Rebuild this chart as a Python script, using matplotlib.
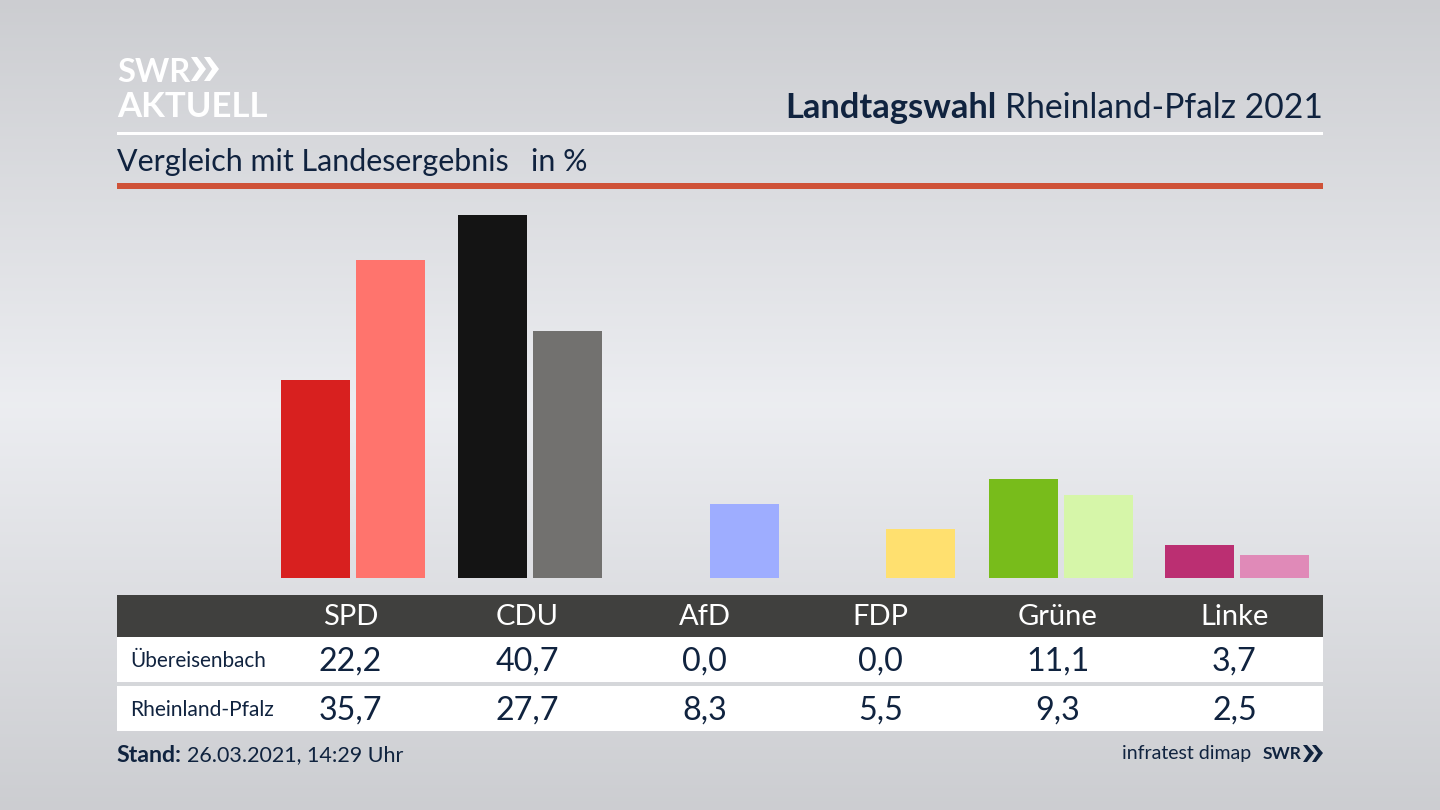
import numpy as np
import matplotlib
matplotlib.use("Agg")
import matplotlib.pyplot as plt
from matplotlib.patches import Rectangle, Polygon

parties = ["SPD", "CDU", "AfD", "FDP", "Grüne", "Linke"]
local_values = [22.2, 40.7, 0.0, 0.0, 11.1, 3.7]
state_values = [35.7, 27.7, 8.3, 5.5, 9.3, 2.5]
local_colors = ["#d8201f", "#141414", "#7f93ff", "#ffd84a", "#78bc1b", "#bb2f72"]
state_colors = ["#ff746d", "#72716f", "#9eadff", "#ffe06f", "#d6f6a9", "#e08ab8"]
row_names = ["Übereisenbach", "Rheinland-Pfalz"]

plt.rcParams["font.family"] = ["Lato", "DejaVu Sans"]
navy = "#10233f"

fig = plt.figure(figsize=(14.4, 8.1), dpi=100)

# background and all the furniture in pixel coords
bg = fig.add_axes([0, 0, 1, 1], zorder=0)
bg.set_xlim(0, 1440)
bg.set_ylim(810, 0)
bg.axis("off")
grad = np.interp(np.linspace(0, 1, 256), [0, 0.5, 1], [0.80, 0.925, 0.80])
bg.imshow(np.column_stack([grad, grad + 0.005, grad + 0.02]).reshape(256, 1, 3).clip(0, 1),
          extent=[0, 1440, 810, 0], aspect="auto")

bg.add_patch(Rectangle((117, 132), 1206, 3, color="white", lw=0))
bg.add_patch(Rectangle((117, 183), 1206, 6, color="#cf5238", lw=0))
bg.add_patch(Rectangle((117, 595), 1206, 42, color="#40403e", lw=0))
bg.add_patch(Rectangle((117, 637), 1206, 45, color="white", lw=0))
bg.add_patch(Rectangle((117, 686), 1206, 45, color="white", lw=0))

# logo
bg.text(117, 72, "SWR", color="white", fontsize=23.5, fontweight="bold", va="center", ha="left")
bg.text(117, 107, "AKTUELL", color="white", fontsize=25, fontweight="bold", va="center", ha="left")
for x0 in [191, 204]:
    bg.add_patch(Polygon([(x0, 57), (x0 + 6, 57), (x0 + 15, 69), (x0 + 6, 81), (x0, 81), (x0 + 8, 69)], color="white", lw=0))

bg.text(1323, 108, "Rheinland-Pfalz 2021", color=navy, fontsize=24.2, va="center", ha="right")
bg.text(997, 108, "Landtagswahl", color=navy, fontsize=24.8, fontweight="bold", va="center", ha="right")
bg.text(117, 162, "Vergleich mit Landesergebnis", color=navy, fontsize=21.9, va="center", ha="left")
bg.text(531, 162, "in %", color=navy, fontsize=21.9, va="center", ha="left")

# bars
ax = fig.add_axes([0, 1 - 577.5 / 810, 1, (577.5 - 215) / 810], zorder=1)
ax.patch.set_alpha(0)
ax.axis("off")
ax.set_xlim(0, 1440)
ax.set_ylim(0, 40.7)
centers = [350, 527, 704, 880, 1057.5, 1234]
for i in range(len(parties)):
    if local_values[i] > 0:
        ax.bar(centers[i] - 34.5, local_values[i], width=69, color=local_colors[i], lw=0)
    ax.bar(centers[i] + 40.5, state_values[i], width=69, color=state_colors[i], lw=0)
    bg.text(centers[i] + 0.5, 617, parties[i], color="white", fontsize=21, va="center", ha="center")
    bg.text(centers[i] + 0.5, 662, f"{local_values[i]:.1f}".replace(".", ","), color=navy, fontsize=23.2, va="center", ha="center")
    bg.text(centers[i] + 0.5, 711, f"{state_values[i]:.1f}".replace(".", ","), color=navy, fontsize=23.2, va="center", ha="center")

bg.text(130, 661, row_names[0], color=navy, fontsize=14.9, va="center", ha="left")
bg.text(130, 710, row_names[1], color=navy, fontsize=15.1, va="center", ha="left")

# footer
bg.text(116, 755, "Stand:", color=navy, fontsize=16.7, fontweight="bold", va="center", ha="left")
bg.text(187, 755, "26.03.2021, 14:29 Uhr", color=navy, fontsize=15.5, va="center", ha="left")
bg.text(1251, 754, "infratest dimap", color=navy, fontsize=14, va="center", ha="right")
bg.text(1263, 754, "SWR", color=navy, fontsize=12.5, fontweight="bold", va="center", ha="left")
for x0 in [1303, 1312]:
    bg.add_patch(Polygon([(x0, 745), (x0 + 4, 745), (x0 + 11, 753), (x0 + 4, 762), (x0, 762), (x0 + 6, 753)], color=navy, lw=0))

fig.savefig("out.png", dpi=100)
